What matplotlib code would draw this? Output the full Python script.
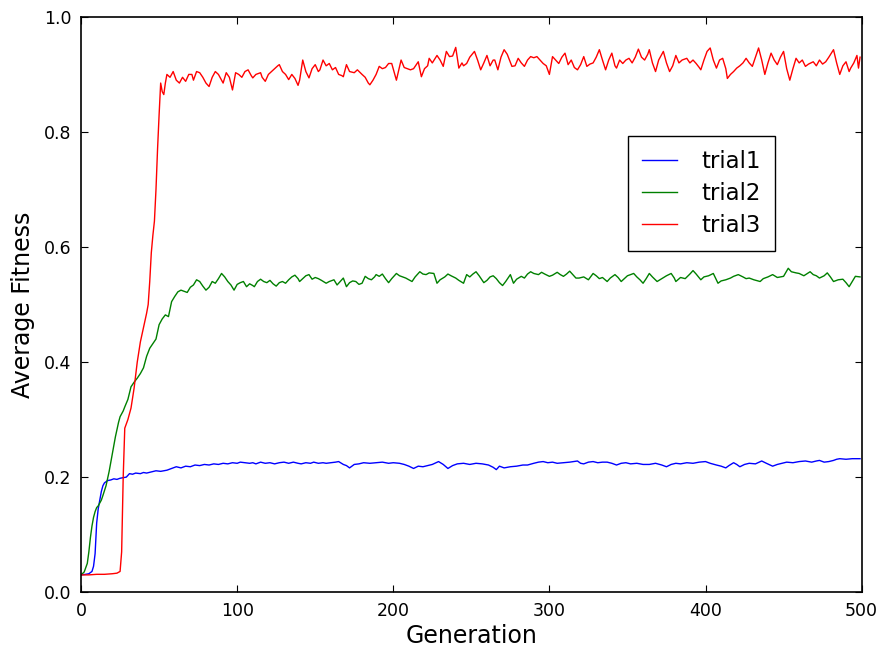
import matplotlib
matplotlib.use("Agg")
import matplotlib.pyplot as plt

# trial1 (blue)
gen1 = [0, 3, 5, 7, 8, 9, 10, 11, 12, 13,
        14, 15, 17, 19, 21, 23, 25, 27, 29, 31,
        33, 35, 38, 40, 42, 45, 48, 51, 55, 58,
        61, 64, 67, 70, 73, 76, 79, 82, 85, 88,
        91, 94, 97, 100, 102, 105, 108, 110, 112, 115,
        118, 121, 124, 127, 130, 133, 136, 139, 141, 144,
        147, 149, 152, 155, 157, 160, 163, 165, 168, 170,
        172, 175, 178, 181, 185, 189, 193, 197, 200, 204,
        207, 210, 213, 216, 219, 222, 225, 229, 232, 235,
        238, 241, 245, 249, 253, 257, 261, 264, 266, 268,
        271, 275, 279, 283, 286, 290, 293, 296, 299, 302,
        305, 309, 313, 318, 320, 322, 325, 328, 331, 334,
        337, 340, 343, 346, 349, 352, 356, 360, 364, 368,
        372, 375, 378, 381, 384, 388, 392, 396, 400, 403,
        407, 410, 413, 415, 418, 420, 422, 425, 428, 432,
        436, 439, 443, 446, 449, 452, 456, 460, 464, 468,
        471, 473, 476, 479, 482, 484, 486, 490, 494, 499]
fit1 = [0.030, 0.031, 0.032, 0.036, 0.045, 0.067, 0.120, 0.145, 0.160, 0.175,
        0.185, 0.190, 0.194, 0.195, 0.197, 0.196, 0.198, 0.199, 0.200, 0.206,
        0.205, 0.207, 0.206, 0.208, 0.207, 0.209, 0.211, 0.210, 0.212, 0.215,
        0.218, 0.216, 0.219, 0.218, 0.221, 0.220, 0.222, 0.221, 0.223, 0.222,
        0.224, 0.223, 0.225, 0.224, 0.226, 0.225, 0.224, 0.225, 0.223, 0.226,
        0.224, 0.225, 0.223, 0.225, 0.226, 0.224, 0.226, 0.224, 0.223, 0.225,
        0.224, 0.226, 0.224, 0.225, 0.224, 0.225, 0.226, 0.227, 0.222, 0.220,
        0.216, 0.222, 0.223, 0.225, 0.224, 0.225, 0.226, 0.224, 0.225, 0.224,
        0.222, 0.219, 0.215, 0.219, 0.218, 0.220, 0.222, 0.227, 0.222, 0.215,
        0.220, 0.223, 0.224, 0.222, 0.224, 0.223, 0.221, 0.217, 0.213, 0.219,
        0.216, 0.218, 0.219, 0.221, 0.221, 0.224, 0.226, 0.227, 0.225, 0.226,
        0.224, 0.225, 0.226, 0.228, 0.224, 0.223, 0.226, 0.227, 0.225, 0.226,
        0.226, 0.224, 0.221, 0.224, 0.225, 0.223, 0.224, 0.222, 0.222, 0.224,
        0.221, 0.218, 0.222, 0.224, 0.223, 0.225, 0.224, 0.226, 0.227, 0.224,
        0.221, 0.219, 0.216, 0.220, 0.225, 0.222, 0.218, 0.222, 0.224, 0.223,
        0.228, 0.224, 0.219, 0.222, 0.224, 0.226, 0.225, 0.227, 0.228, 0.226,
        0.228, 0.229, 0.226, 0.227, 0.229, 0.231, 0.232, 0.231, 0.232, 0.232]

# trial2 (green)
gen2 = [0, 2, 4, 5, 6, 7, 8, 9, 10, 11,
        12, 13, 14, 16, 18, 20, 22, 24, 25, 27,
        28, 30, 32, 34, 36, 38, 40, 42, 44, 46,
        48, 50, 52, 54, 56, 58, 60, 62, 64, 66,
        68, 70, 72, 74, 76, 78, 80, 82, 84, 86,
        88, 90, 92, 94, 96, 98, 100, 102, 104, 106,
        108, 110, 111, 113, 115, 117, 119, 121, 123, 125,
        127, 129, 131, 133, 135, 137, 139, 140, 142, 144,
        146, 148, 150, 152, 154, 157, 159, 162, 164, 166,
        168, 170, 172, 174, 176, 178, 180, 182, 184, 186,
        188, 189, 191, 193, 195, 197, 199, 202, 204, 206,
        208, 210, 212, 214, 217, 219, 221, 223, 226, 228,
        230, 233, 235, 237, 240, 242, 245, 247, 249, 251,
        253, 255, 258, 260, 262, 264, 266, 268, 270, 272,
        275, 277, 279, 282, 284, 286, 288, 290, 293, 295,
        297, 300, 302, 305, 307, 309, 311, 313, 315, 317,
        319, 322, 325, 328, 330, 332, 334, 337, 339, 342,
        344, 346, 348, 350, 354, 356, 358, 360, 362, 364,
        366, 369, 372, 375, 378, 380, 381, 384, 387, 390,
        392, 394, 397, 399, 402, 405, 408, 410, 413, 416,
        418, 421, 424, 426, 428, 431, 435, 437, 440, 443,
        446, 450, 453, 455, 458, 460, 463, 467, 469, 471,
        473, 476, 478, 480, 482, 485, 488, 490, 492, 494,
        496, 499]
fit2 = [0.030, 0.035, 0.050, 0.070, 0.095, 0.115, 0.130, 0.140, 0.147, 0.150,
        0.155, 0.160, 0.168, 0.185, 0.210, 0.240, 0.270, 0.295, 0.305, 0.315,
        0.322, 0.335, 0.357, 0.365, 0.372, 0.380, 0.390, 0.410, 0.424, 0.432,
        0.440, 0.465, 0.475, 0.482, 0.479, 0.505, 0.514, 0.522, 0.525, 0.523,
        0.521, 0.530, 0.534, 0.543, 0.540, 0.532, 0.525, 0.530, 0.540, 0.537,
        0.545, 0.554, 0.548, 0.540, 0.534, 0.525, 0.535, 0.538, 0.540, 0.531,
        0.536, 0.533, 0.531, 0.540, 0.544, 0.540, 0.538, 0.542, 0.536, 0.532,
        0.538, 0.540, 0.537, 0.543, 0.548, 0.551, 0.545, 0.540, 0.545, 0.550,
        0.552, 0.544, 0.547, 0.545, 0.542, 0.537, 0.540, 0.543, 0.534, 0.540,
        0.546, 0.531, 0.538, 0.541, 0.540, 0.535, 0.537, 0.549, 0.545, 0.543,
        0.548, 0.552, 0.549, 0.553, 0.545, 0.538, 0.545, 0.554, 0.550, 0.548,
        0.546, 0.543, 0.540, 0.548, 0.557, 0.553, 0.552, 0.555, 0.554, 0.537,
        0.543, 0.548, 0.553, 0.550, 0.546, 0.542, 0.537, 0.552, 0.548, 0.553,
        0.557, 0.550, 0.538, 0.542, 0.548, 0.550, 0.545, 0.538, 0.533, 0.540,
        0.552, 0.537, 0.544, 0.549, 0.546, 0.553, 0.557, 0.554, 0.552, 0.556,
        0.553, 0.549, 0.551, 0.556, 0.552, 0.549, 0.553, 0.558, 0.552, 0.546,
        0.546, 0.548, 0.543, 0.554, 0.550, 0.545, 0.547, 0.540, 0.546, 0.552,
        0.547, 0.540, 0.545, 0.550, 0.554, 0.548, 0.543, 0.537, 0.545, 0.554,
        0.548, 0.540, 0.545, 0.550, 0.554, 0.546, 0.540, 0.547, 0.545, 0.553,
        0.559, 0.553, 0.543, 0.548, 0.550, 0.554, 0.537, 0.541, 0.543, 0.546,
        0.549, 0.552, 0.548, 0.545, 0.546, 0.543, 0.540, 0.545, 0.548, 0.552,
        0.547, 0.549, 0.563, 0.557, 0.555, 0.554, 0.550, 0.557, 0.552, 0.550,
        0.546, 0.550, 0.555, 0.548, 0.540, 0.543, 0.544, 0.538, 0.531, 0.540,
        0.549, 0.548]

# trial3 (red)
gen3 = [0, 5, 10, 15, 20, 23, 25, 26, 27, 28,
        30, 32, 34, 36, 38, 40, 42, 43, 44, 45,
        46, 47, 48, 49, 50, 51, 52, 53, 54, 55,
        57, 59, 61, 63, 65, 67, 69, 71, 72, 74,
        76, 78, 80, 82, 84, 86, 88, 90, 91, 93,
        95, 97, 99, 101, 103, 105, 107, 109, 110, 112,
        115, 116, 118, 120, 122, 124, 126, 127, 129, 131,
        133, 135, 137, 139, 140, 142, 144, 146, 148, 150,
        152, 153, 155, 157, 159, 161, 163, 165, 167, 168,
        170, 172, 175, 177, 180, 182, 184, 185, 187, 189,
        191, 193, 195, 197, 199, 202, 205, 207, 209, 211,
        213, 216, 218, 220, 222, 223, 225, 228, 230, 232,
        234, 236, 238, 240, 242, 244, 245, 247, 249, 252,
        254, 256, 258, 260, 262, 264, 265, 267, 269, 271,
        273, 276, 278, 280, 282, 284, 286, 288, 290, 292,
        294, 296, 298, 300, 302, 304, 306, 308, 310, 312,
        314, 316, 318, 320, 322, 324, 326, 328, 330, 332,
        334, 336, 338, 340, 342, 343, 345, 347, 349, 351,
        353, 355, 357, 359, 361, 363, 364, 366, 368, 370,
        373, 375, 377, 379, 381, 383, 385, 388, 390, 392,
        394, 396, 397, 399, 401, 403, 405, 407, 409, 411,
        413, 414, 416, 418, 420, 422, 424, 426, 428, 430,
        432, 434, 436, 438, 440, 442, 444, 446, 448, 450,
        452, 454, 456, 458, 460, 462, 464, 466, 469, 471,
        473, 475, 477, 479, 482, 484, 486, 488, 490, 492,
        493, 495, 497, 498, 499]
fit3 = [0.030, 0.030, 0.031, 0.031, 0.032, 0.033, 0.036, 0.070, 0.200, 0.285,
        0.300, 0.320, 0.355, 0.400, 0.435, 0.460, 0.485, 0.500, 0.540, 0.590,
        0.620, 0.645, 0.700, 0.770, 0.830, 0.885, 0.870, 0.865, 0.885, 0.900,
        0.895, 0.905, 0.890, 0.885, 0.895, 0.888, 0.900, 0.900, 0.890, 0.905,
        0.903, 0.895, 0.885, 0.879, 0.895, 0.905, 0.900, 0.890, 0.885, 0.903,
        0.895, 0.873, 0.903, 0.900, 0.895, 0.905, 0.908, 0.898, 0.894, 0.900,
        0.903, 0.895, 0.888, 0.900, 0.905, 0.910, 0.915, 0.917, 0.905, 0.900,
        0.891, 0.900, 0.893, 0.881, 0.890, 0.925, 0.905, 0.894, 0.910, 0.917,
        0.905, 0.908, 0.925, 0.915, 0.919, 0.908, 0.912, 0.900, 0.898, 0.896,
        0.917, 0.905, 0.903, 0.908, 0.900, 0.895, 0.885, 0.882, 0.890, 0.900,
        0.914, 0.910, 0.912, 0.919, 0.919, 0.890, 0.925, 0.912, 0.910, 0.908,
        0.910, 0.922, 0.896, 0.910, 0.915, 0.928, 0.920, 0.933, 0.925, 0.914,
        0.940, 0.931, 0.932, 0.947, 0.911, 0.920, 0.915, 0.919, 0.930, 0.940,
        0.925, 0.908, 0.920, 0.933, 0.915, 0.925, 0.925, 0.908, 0.930, 0.943,
        0.935, 0.914, 0.915, 0.928, 0.920, 0.914, 0.925, 0.931, 0.929, 0.931,
        0.925, 0.919, 0.915, 0.900, 0.931, 0.925, 0.919, 0.930, 0.937, 0.917,
        0.925, 0.912, 0.908, 0.917, 0.931, 0.914, 0.918, 0.920, 0.930, 0.943,
        0.925, 0.908, 0.925, 0.937, 0.915, 0.911, 0.925, 0.919, 0.925, 0.928,
        0.920, 0.930, 0.944, 0.930, 0.925, 0.935, 0.943, 0.920, 0.905, 0.925,
        0.940, 0.920, 0.905, 0.915, 0.933, 0.920, 0.925, 0.928, 0.920, 0.925,
        0.919, 0.912, 0.908, 0.925, 0.940, 0.946, 0.925, 0.911, 0.925, 0.928,
        0.910, 0.893, 0.900, 0.905, 0.911, 0.915, 0.920, 0.928, 0.920, 0.914,
        0.930, 0.946, 0.925, 0.900, 0.920, 0.937, 0.925, 0.917, 0.930, 0.940,
        0.910, 0.890, 0.910, 0.928, 0.920, 0.925, 0.914, 0.918, 0.922, 0.915,
        0.925, 0.918, 0.922, 0.930, 0.943, 0.920, 0.900, 0.915, 0.922, 0.905,
        0.911, 0.920, 0.933, 0.911, 0.930]

assert len(gen1) == len(fit1), (len(gen1), len(fit1))
assert len(gen2) == len(fit2), (len(gen2), len(fit2))
assert len(gen3) == len(fit3), (len(gen3), len(fit3))

fig = plt.figure(figsize=(8.81, 6.5), dpi=100)
ax = fig.add_axes([0.092, 0.089, 0.886, 0.885])

ax.plot(gen1, fit1, color='b', lw=1.0, label='trial1')
ax.plot(gen2, fit2, color='g', lw=1.0, label='trial2')
ax.plot(gen3, fit3, color='r', lw=1.0, label='trial3')

ax.set_xlim(0, 500)
ax.set_ylim(0, 1.0)
ax.set_xticks([0, 100, 200, 300, 400, 500])
ax.set_yticks([0.0, 0.2, 0.4, 0.6, 0.8, 1.0])
ax.tick_params(direction='in', top=True, right=True, length=5, labelsize=12.5, pad=7)
for s in ax.spines.values():
    s.set_linewidth(1.2)

ax.set_xlabel('Generation', fontsize=17, labelpad=3)
ax.set_ylabel('Average Fitness', fontsize=17, labelpad=6)

leg = ax.legend(loc='upper left', bbox_to_anchor=(0.701, 0.793), borderaxespad=0,
                fontsize=16.5, fancybox=False, framealpha=1, edgecolor='black',
                handlelength=1.55, handletextpad=1.05, borderpad=0.6,
                labelspacing=0.4)
leg.get_frame().set_linewidth(1.0)

fig.savefig('out.png', dpi=100)
